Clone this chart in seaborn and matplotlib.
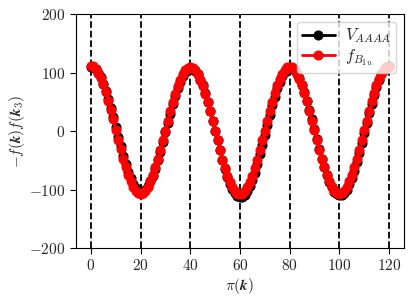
import matplotlib
matplotlib.use("Agg")
import matplotlib.pyplot as plt
import seaborn as sns
import numpy as np
import pandas as pd

# ---- data ----
x_vals = list(range(0, 121))
v_aaaa = [110, 109, 106, 100, 92, 81, 69, 55, 40, 24, 7, -10, -26, -42, -57, -70, -81, -90, -98, -102, -104,
          -103, -100, -94, -86, -76, -64, -50, -35, -19, -2, 14, 30, 46, 60, 73, 84, 94, 101, 105, 107,
          106, 103, 97, 88, 78, 65, 50, 35, 18, 1, -16, -33, -49, -64, -78, -90, -99, -106, -111, -113,
          -112, -109, -103, -94, -83, -71, -56, -40, -24, -6, 11, 28, 44, 59, 73, 84, 94, 101, 106, 108,
          107, 104, 98, 90, 79, 66, 52, 36, 20, 3, -14, -31, -47, -62, -75, -87, -96, -104, -108, -110,
          -109, -106, -100, -91, -80, -68, -53, -37, -21, -4, 14, 31, 47, 62, 76, 88, 97, 104, 109, 111]
f_b1u = [112, 111, 107, 100, 91, 80, 67, 52, 36, 20, 2, -15, -31, -47, -62, -75, -86, -95, -102, -106, -107,
         -106, -102, -95, -86, -75, -62, -48, -32, -16, 1, 18, 34, 50, 64, 77, 88, 97, 104, 108, 109,
         108, 104, 97, 88, 77, 64, 50, 34, 17, 0, -16, -33, -49, -63, -76, -87, -96, -103, -107, -108,
         -107, -103, -96, -87, -76, -63, -49, -33, -16, 1, 18, 35, 50, 65, 78, 89, 98, 105, 109, 110,
         109, 105, 98, 89, 78, 65, 51, 35, 18, 2, -15, -32, -48, -62, -75, -86, -95, -102, -106, -107,
         -106, -102, -95, -86, -75, -62, -48, -32, -15, 2, 18, 35, 51, 65, 78, 89, 98, 105, 109, 110]
series_labels = [r"$V_{AAAA}$", r"$f_{B_{1u}}$"]
vlines_x = [0, 20, 40, 60, 80, 100, 120]
xticks = [0, 20, 40, 60, 80, 100, 120]
yticks = [-200, -100, 0, 100, 200]

sns.set_theme(style="ticks")
plt.rcParams["mathtext.fontset"] = "cm"
plt.rcParams["font.family"] = ["DejaVu Serif"]

fig = plt.figure(figsize=(4.15, 3.01), dpi=100)
ax = fig.add_axes([0.183, 0.176, 0.790, 0.777])

for xv in vlines_x:
    ax.axvline(xv, color="black", linestyle="--", linewidth=1.3, zorder=1)

df = pd.DataFrame({"x": x_vals, "V": v_aaaa, "F": f_b1u})
sns.lineplot(data=df, x="x", y="V", ax=ax, color="black", marker="o", markersize=6.5,
             markeredgecolor="black", linewidth=2, label=series_labels[0], zorder=3)
sns.lineplot(data=df, x="x", y="F", ax=ax, color="red", marker="o", markersize=6.5,
             markeredgecolor="red", linewidth=2, label=series_labels[1], zorder=4)

ax.set_xlim(-6, 126)
ax.set_ylim(-200, 200)
ax.set_xticks(xticks, labels=[f"${t}$" for t in xticks])
ax.set_yticks(yticks, labels=[f"${t}$" for t in yticks])
ax.tick_params(labelsize=11, length=4, width=0.8, color="black")
for s in ax.spines.values():
    s.set_color("black")
    s.set_linewidth(0.8)

ax.set_xlabel(r"$\pi(\boldsymbol{k})$", fontsize=11, labelpad=2)
ax.set_ylabel(r"$-f(\boldsymbol{k})f(\boldsymbol{k}_3)$", fontsize=11, labelpad=2)

ax.legend(loc="upper right", fontsize=12, frameon=True, handlelength=2.0,
          borderpad=0.3, labelspacing=0.1, handletextpad=0.6, borderaxespad=0.45,
          framealpha=0.8, edgecolor="#cccccc")

fig.savefig("out.png", dpi=100)
